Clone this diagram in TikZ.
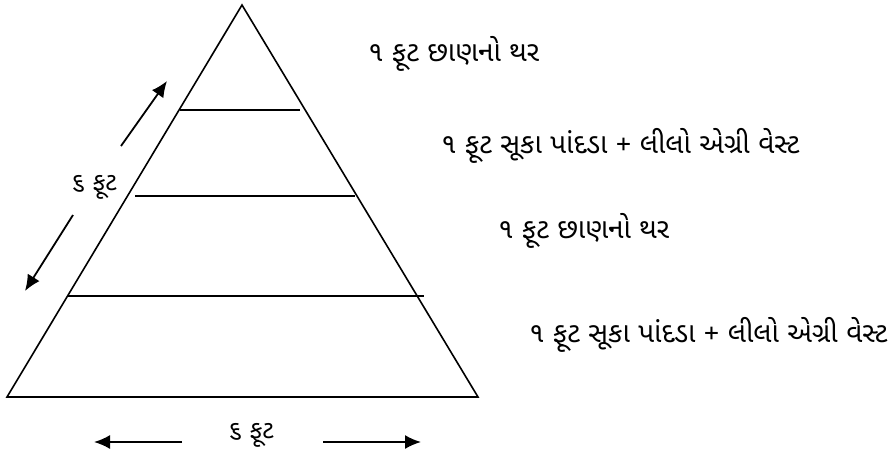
\documentclass[tikz,border=0pt]{standalone}
\usepackage{fontspec}
\newfontfamily\guj[Script=Gujarati]{Noto Sans Gujarati UI}
\usetikzlibrary{arrows.meta}
\begin{document}
\begin{tikzpicture}[x=1pt,y=-1pt,
  edge/.style={line width=1.6pt, line join=miter},
  layer/.style={line width=1.6pt},
  dimarrow/.style={line width=1.8pt, -{Latex[length=16pt,width=14pt]}},
  lbl/.style={inner sep=0pt, font=\guj\fontsize{28}{30}\selectfont, anchor=west},
  dimlbl/.style={inner sep=0pt, font=\guj\fontsize{25}{28}\selectfont}]
\useasboundingbox (0,0) rectangle (894,459);
% pyramid corners
\coordinate (apex) at (242,5);
\coordinate (bl) at (7,397);
\coordinate (br) at (478,397);
\draw[edge] (bl) -- (apex) -- (br) -- cycle;
% layer lines
\coordinate (l1a) at (180,110); \coordinate (l1b) at (300,110);
\coordinate (l2a) at (135,196); \coordinate (l2b) at (355,196);
\coordinate (l3a) at (67,296);  \coordinate (l3b) at (424,296);
\draw[layer] (l1a) -- (l1b);
\draw[layer] (l2a) -- (l2b);
\draw[layer] (l3a) -- (l3b);
% labels
\node[lbl] (t1) at (368,54) {૧ ફૂટ છાણનો થર};
\node[lbl] (t2) at (441,146) {૧ ફૂટ સૂકા પાંદડા + લીલો એગ્રી વેસ્ટ};
\node[lbl] (t3) at (498,231) {૧ ફૂટ છાણનો થર};
\node[lbl] (t4) at (529,335) {૧ ફૂટ સૂકા પાંદડા + લીલો એગ્રી વેસ્ટ};
% side dimension
\node[dimlbl] (side) at (94,187) {૬ ફૂટ};
\coordinate (su0) at (121,146); \coordinate (su1) at (167,81);
\coordinate (sd0) at (73,215);  \coordinate (sd1) at (25,291);
\draw[dimarrow] (su0) -- (su1);
\draw[dimarrow] (sd0) -- (sd1);
% base dimension
\node[dimlbl] (base) at (251,435) {૬ ફૂટ};
\coordinate (bl0) at (182,442); \coordinate (bl1) at (94,442);
\coordinate (br0) at (323,442); \coordinate (br1) at (421,442);
\draw[dimarrow] (bl0) -- (bl1);
\draw[dimarrow] (br0) -- (br1);
\end{tikzpicture}
\end{document}
